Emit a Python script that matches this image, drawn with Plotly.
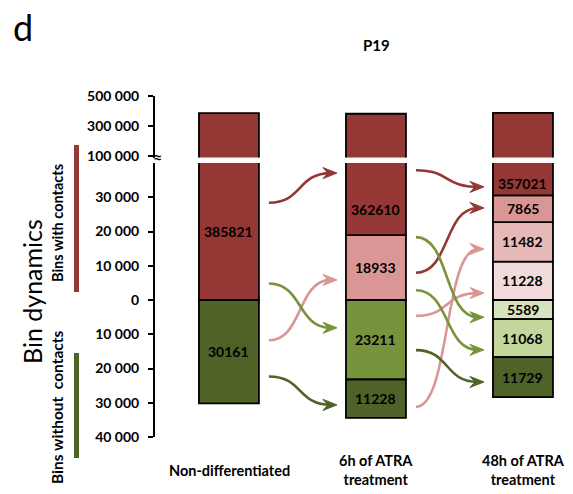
import plotly.graph_objects as go

# ---------------- data ----------------
stages = ["Non-differentiated", "6h of ATRA<br>treatment", "48h of ATRA<br>treatment"]
# bins with contacts, stacked upward from 0 (bottom -> top)
contacts = [
    [385821],
    [18933, 362610],
    [11228, 11482, 7865, 357021],
]
# bins without contacts, stacked downward from 0 (top -> bottom)
no_contacts = [
    [30161],
    [23211, 11228],
    [5589, 11068, 11729],
]
lower_ticks = [-40000, -30000, -20000, -10000, 0, 10000, 20000, 30000]
upper_ticks = [100000, 300000, 500000]

# flows between stages: (source stage, source group, source index, target group, target index)
flows = [
    (0, "c", 0, "c", 1),
    (0, "n", 0, "c", 0),
    (0, "c", 0, "n", 0),
    (0, "n", 0, "n", 1),
    (1, "c", 1, "c", 3),
    (1, "c", 0, "c", 2),
    (1, "n", 0, "c", 0),
    (1, "n", 1, "c", 1),
    (1, "c", 0, "n", 0),
    (1, "c", 0, "n", 1),
    (1, "n", 0, "n", 2),
]

# ---------------- styles ----------------
DARK_RED = "#953735"
PINK = "#D99694"
PINK2 = "#E6B9B8"
PINK3 = "#F2DCDB"
GREEN = "#77933C"
DARK_GREEN = "#4F6228"
LGREEN1 = "#C3D69B"
LGREEN2 = "#D7E4BD"
contact_colors = [
    [DARK_RED],
    [PINK, DARK_RED],
    [PINK3, PINK2, PINK, DARK_RED],
]
no_contact_colors = [
    [DARK_GREEN],
    [GREEN, DARK_GREEN],
    [LGREEN2, LGREEN1, DARK_GREEN],
]
flow_colors = [DARK_RED, PINK, GREEN, DARK_GREEN,
               DARK_RED, DARK_RED, PINK, PINK, GREEN, GREEN, DARK_GREEN]
# anchor fraction inside the visible part of source / target segment
flow_anchor = [(0.71, 0.86), (0.61, 0.31), (0.12, 0.65), (0.26, 0.34),
               (0.90, 0.26), (0.42, 0.53), (0.80, 0.18), (0.29, 0.32),
               (0.97, 0.10), (0.15, 0.19), (0.37, 0.38)]
# where a value label sits inside the visible part of a segment (0 = bottom, 1 = top)
label_frac_big = 0.35

FONT = "Lato"
W, H = 573, 494
LOW_RANGE = [-40000, 40000]
UP_RANGE = [90000, 500000]
X_RANGE = [-0.503, 2.286]
BAR_W = 0.408

def P(px, py):
    return px / W, 1 - py / H

# ---------------- segments ----------------
segments = {}  # (stage, group, idx) -> (lo, hi)
for i, vals in enumerate(contacts):
    b = 0
    for j, v in enumerate(vals):
        segments[(i, "c", j)] = (b, b + v)
        b += v
for i, vals in enumerate(no_contacts):
    b = 0
    for j, v in enumerate(vals):
        segments[(i, "n", j)] = (b - v, b)
        b -= v

fig = go.Figure()
annotations = []

def add_seg(i, lo, hi, color, val):
    common = dict(x=[i], y=[hi - lo], base=[lo], width=BAR_W,
                  marker=dict(color=color, line=dict(color="black", width=1.8)),
                  showlegend=False, hoverinfo="skip")
    fig.add_trace(go.Bar(yaxis="y", **common))
    broken = hi > UP_RANGE[0]
    if broken:
        fig.add_trace(go.Bar(yaxis="y2", **common))
    vlo, vhi = max(lo, LOW_RANGE[0]), min(hi, LOW_RANGE[1])
    frac = 0.5
    if broken and lo > 0:
        frac = label_frac_big
    annotations.append(dict(x=i, y=vlo + frac * (vhi - vlo), xref="x", yref="y", text=str(val),
                            showarrow=False, font=dict(family=FONT, size=14, color="black", weight="bold")))

for i in range(3):
    for j, v in enumerate(contacts[i]):
        lo, hi = segments[(i, "c", j)]
        add_seg(i, lo, hi, contact_colors[i][j], v)
    for j, v in enumerate(no_contacts[i]):
        lo, hi = segments[(i, "n", j)]
        add_seg(i, lo, hi, no_contact_colors[i][j], v)

# ---------------- flow arrows ----------------
XPX = (X_RANGE[1] - X_RANGE[0]) / (565 - 155)
YPX = (LOW_RANGE[1] - LOW_RANGE[0]) / (437 - 163)
shapes = []

def anchor_y(key, frac):
    lo, hi = segments[key]
    lo, hi = max(lo, LOW_RANGE[0]), min(hi, LOW_RANGE[1])
    return lo + frac * (hi - lo)

for (s, sg, si, tg, ti), col, (fa, fb) in zip(flows, flow_colors, flow_anchor):
    y0 = anchor_y((s, sg, si), fa)
    y1 = anchor_y((s + 1, tg, ti), fb)
    x0 = s + BAR_W / 2 + 10 * XPX
    xt = s + 1 - BAR_W / 2 - 9 * XPX
    x1 = xt - 6 * XPX
    dx = x1 - x0
    path = f"M {x0},{y0} C {x0 + 0.55 * dx},{y0} {x1 - 0.55 * dx},{y1} {x1},{y1}"
    shapes.append(dict(type="path", xref="x", yref="y", path=path,
                       line=dict(color=col, width=2.6)))
    head = (f"M {xt},{y1} L {xt - 14 * XPX},{y1 + 5.5 * YPX} L {xt - 9 * XPX},{y1} "
            f"L {xt - 14 * XPX},{y1 - 5.5 * YPX} Z")
    shapes.append(dict(type="path", xref="x", yref="y", path=head,
                       fillcolor=col, line=dict(color=col, width=1)))

# side colour bars
for (ya, yb), col in [((145, 292), DARK_RED), ((353, 458), DARK_GREEN)]:
    xa, ya_ = P(76.5, ya)
    _, yb_ = P(76.5, yb)
    shapes.append(dict(type="line", xref="paper", yref="paper", x0=xa, x1=xa,
                       y0=ya_, y1=yb_, line=dict(color=col, width=5)))

# ---------------- text ----------------
def ann(px, py, text, size, bold=False, angle=0):
    x, y = P(px, py)
    annotations.append(dict(x=x, y=y, xref="paper", yref="paper", text=text, showarrow=False,
                            textangle=angle, xanchor="center", yanchor="middle",
                            font=dict(family=FONT, size=size, color="black",
                                      weight="bold" if bold else "normal")))

ann(23, 27, "d", 36)
ann(376, 45, "P19", 15, bold=True)
ann(32, 292, "Bin dynamics", 25, angle=-90)
ann(57, 223, "Bins with contacts", 14.5, bold=True, angle=-90)
ann(57, 407, "Bins without\u00a0\u00a0contacts", 15.5, bold=True, angle=-90)
stage_px = [229, 376, 523]
for i, s in enumerate(stages):
    ann(stage_px[i], 470, s, 14.5, bold=True)
ann(157, 156, "<b>≈</b>", 16)

def fmt(v):
    return f"{abs(v):,}".replace(",", " ")

tickfont = dict(family=FONT, size=14, color="black", weight="bold")
axis_common = dict(showline=True, linecolor="black", linewidth=2, ticks="outside",
                   ticklen=5, tickwidth=2, tickcolor="black", showgrid=False,
                   zeroline=False, tickfont=tickfont, anchor="x", ticklabelstandoff=6,
                   automargin=False)

fig.update_layout(
    template="none",
    width=W, height=H, autosize=False, margin=dict(l=0, r=0, t=0, b=0, pad=0),
    paper_bgcolor="white", plot_bgcolor="rgba(0,0,0,0)",
    barmode="overlay", showlegend=False,
    xaxis=dict(domain=[155 / W, 565 / W], range=X_RANGE, visible=False, anchor="y",
               automargin=False),
    yaxis=dict(domain=[1 - 437 / H, 1 - 163 / H], range=LOW_RANGE,
               tickvals=lower_ticks, ticktext=[fmt(v) for v in lower_ticks], **axis_common),
    yaxis2=dict(domain=[1 - 157.5 / H, 1 - 96 / H], range=UP_RANGE,
                tickvals=upper_ticks, ticktext=[fmt(v) for v in upper_ticks], **axis_common),
    shapes=shapes, annotations=annotations,
)

fig.write_html("out.html", config={"displayModeBar": False, "responsive": False})
with open("out.html", encoding="utf-8") as f:
    html = f.read()
html = html.replace("<head>", "<head><style>html,body{margin:0;padding:0;overflow:hidden;}</style>", 1)
with open("out.html", "w", encoding="utf-8") as f:
    f.write(html)
